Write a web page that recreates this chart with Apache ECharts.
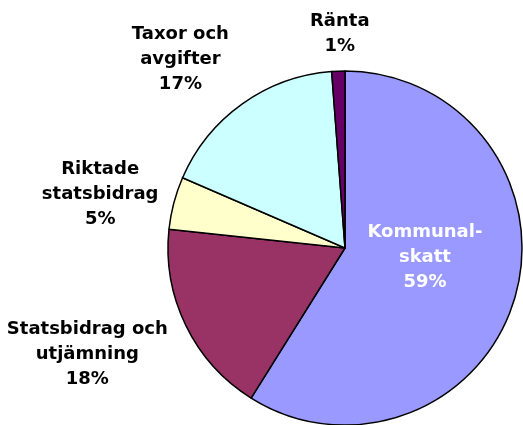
<!DOCTYPE html>
<html>
<head>
<meta charset="utf-8">
<script src="https://cdn.jsdelivr.net/npm/echarts@6/dist/echarts.min.js"></script>
<style>
  html, body { margin: 0; padding: 0; background: #fff; }
  #chart { width: 523px; height: 425px; }
</style>
</head>
<body>
<div id="chart"></div>
<script>
const names = ['Kommunal-\nskatt', 'Statsbidrag och\nutjämning', 'Riktade\nstatsbidrag', 'Taxor och\navgifter', 'Ränta']
const values = [58.9, 17.8, 4.8, 17.3, 1.2]
const colors = ['#9999FF', '#993366', '#FFFFCC', '#CCFFFF', '#660066']
// label nudges (from default pie placement)
const nudges = [[-8, -16], [5, 20], [4, -3], [30, -56], [37, -17]]

const chart = echarts.init(document.getElementById('chart'))
chart.setOption({
  animation: false,
  backgroundColor: '#fff',
  series: [
    {
      type: 'pie',
      center: [345, 248],
      radius: 177,
      startAngle: 90,
      itemStyle: { borderColor: '#000', borderWidth: 1.5 },
      label: {
        show: true,
        position: 'outside',
        overflow: 'none',
        edgeDistance: 0,
        fontFamily: 'DejaVu Sans',
        fontWeight: 'bold',
        fontSize: 18,
        lineHeight: 25,
        color: '#000',
        align: 'center',
        formatter: (p) => p.name + '\n' + Math.round(p.value) + '%',
      },
      labelLine: { show: false, length: 20, length2: 0 },
      labelLayout: (p) => {
        const r = p.labelRect
        const n = nudges[p.dataIndex]
        return {
          x: r.x + r.width / 2 + n[0],
          y: r.y + r.height / 2 + n[1],
          align: 'center',
          verticalAlign: 'middle',
        }
      },
      data: values.map((v, i) => {
        const item = { name: names[i], value: v, itemStyle: { color: colors[i] } }
        if (i === 0) {
          item.label = { position: 'inside', color: '#fff' }
        }
        return item
      }),
    },
  ],
})
</script>
</body>
</html>
